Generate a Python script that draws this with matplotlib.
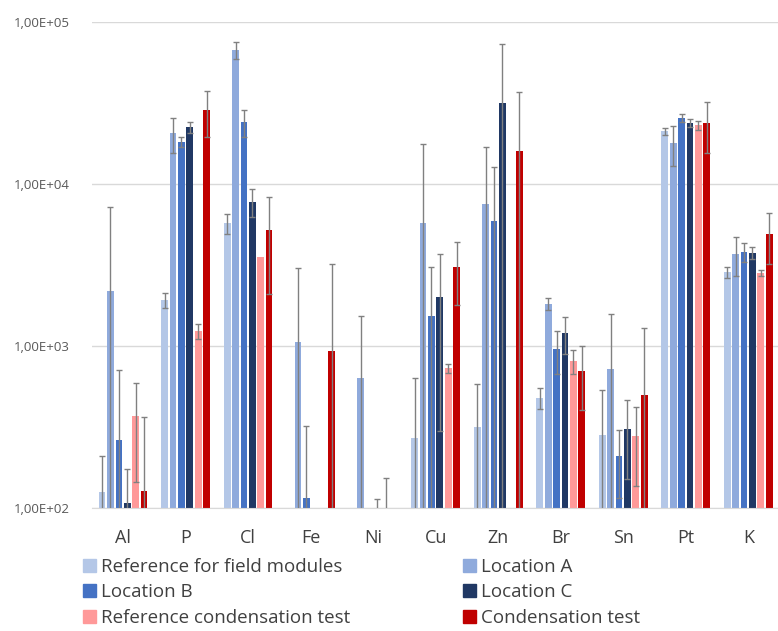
import numpy as np
import matplotlib
matplotlib.use("Agg")
import matplotlib.pyplot as plt
from matplotlib.ticker import FuncFormatter
from matplotlib.patches import Patch

nan = np.nan

elements = ["Al", "P", "Cl", "Fe", "Ni", "Cu", "Zn", "Br", "Sn", "Pt", "K"]

# mean values per series (one value per element)
ref_field = [126, 1920, 5740, nan, nan, 270, 316, 478, 282, 21200, 2860]
loc_a = [2180, 20600, 67000, 1060, 635, 5740, 7500, 1820, 720, 17900, 3700]
loc_b = [263, 18200, 24000, 115, nan, 1530, 5900, 955, 209, 25500, 3800]
loc_c = [107, 22400, 7800, nan, 60, 2000, 31600, 1200, 307, 23800, 3750]
ref_cond = [370, 1240, 3550, nan, 80, 731, nan, 807, 278, 23100, 2840]
cond = [127, 28600, 5200, 930, nan, 3080, 15900, 700, 498, 23800, 4900]

# standard deviations (error bars)
ref_field_err = [83, 200, 800, nan, nan, 365, 266, 72, 250, 1000, 220]
loc_a_err = [5000, 5000, 8000, 1960, 900, 12000, 9500, 160, 860, 4900, 1000]
loc_b_err = [450, 1300, 4500, 205, nan, 1550, 6800, 280, 94, 1500, 500]
loc_c_err = [67, 1600, 1500, nan, 54, 1700, 42000, 310, 157, 1300, 320]
ref_cond_err = [225, 130, nan, nan, 73, 45, nan, 140, 142, 1400, 120]
cond_err = [238, 9000, 3100, 2300, nan, 1300, 21000, 300, 790, 8300, 1700]

labels = ["Reference for field modules", "Location A", "Location B",
          "Location C", "Reference condensation test", "Condensation test"]
colors = ["#B4C7E7", "#8FAADC", "#4472C4", "#203864", "#FF9999", "#C00000"]

series = [ref_field, loc_a, loc_b, loc_c, ref_cond, cond]
errors = [ref_field_err, loc_a_err, loc_b_err, loc_c_err, ref_cond_err, cond_err]

plt.rcParams['font.family'] = ['Open Sans', 'DejaVu Sans']

fig = plt.figure(figsize=(7.78, 6.31), dpi=100)
ax = fig.add_axes([0.118, 0.195, 0.884, 0.77])

x = np.arange(len(elements))
step = 0.134
width = 0.108
for i in range(len(series)):
    pos = x + (i - 2.5) * step
    ax.bar(pos, series[i], width=width, color=colors[i], zorder=2)
    ax.errorbar(pos, series[i], yerr=errors[i], fmt='none', ecolor='#808080',
                elinewidth=1, capsize=2.5, capthick=1, zorder=3)

ax.set_yscale('log')
ax.set_ylim(100, 1e5)
ax.set_xlim(-0.5, len(elements) - 0.5)
ax.set_yticks([1e2, 1e3, 1e4, 1e5])
ax.yaxis.set_major_formatter(FuncFormatter(lambda v, p: f"{v:.2E}".replace('.', ',')))
ax.yaxis.set_minor_locator(plt.NullLocator())
ax.set_xticks(x)
ax.set_xticklabels(elements)
ax.tick_params(axis='x', length=0, labelsize=13, labelcolor='#404040', pad=15)
ax.tick_params(axis='y', length=0, labelsize=9.5, labelcolor='#595959', pad=16)
ax.grid(axis='y', color='#d9d9d9', linewidth=1, zorder=0)
for s in ['top', 'right', 'left']:
    ax.spines[s].set_visible(False)
ax.spines['bottom'].set_color('#d9d9d9')

order = [0, 2, 4, 1, 3, 5]
handles = [Patch(color=colors[i], label=labels[i]) for i in order]
fig.legend(handles=handles, loc='upper left', bbox_to_anchor=(0.107, 0.116),
           ncol=2, frameon=False, fontsize=13.5, handlelength=0.7,
           handleheight=0.7, handletextpad=0.25, labelspacing=0.4,
           columnspacing=6.0, labelcolor='#404040', borderpad=0, borderaxespad=0)

fig.savefig("out.png", dpi=100)
